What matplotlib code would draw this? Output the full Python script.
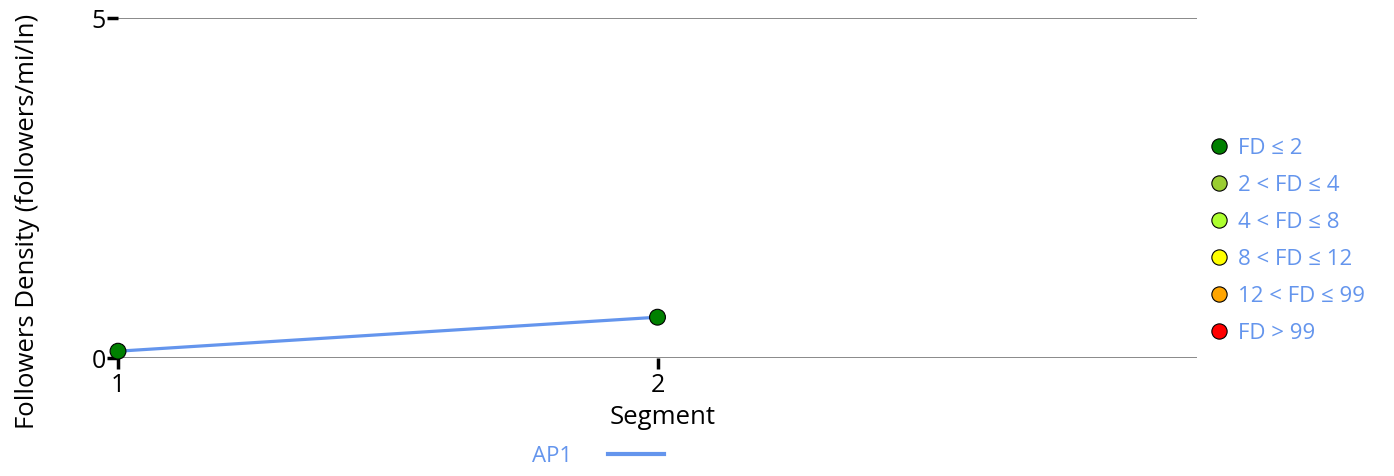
import matplotlib
matplotlib.use("Agg")
import matplotlib.pyplot as plt
from matplotlib.lines import Line2D

# data
segments = [1, 2]
density = [0.1, 0.6]
point_colors = ["#008000", "#008000"]

bin_labels = ["FD ≤ 2", "2 < FD ≤ 4", "4 < FD ≤ 8", "8 < FD ≤ 12", "12 < FD ≤ 99", "FD > 99"]
bin_colors = ["#008000", "#9ACD32", "#ADFF2F", "#FFFF00", "#FFA500", "#FF0000"]

series_name = "AP1"
line_color = "#6495ED"

plt.rcParams["font.family"] = ["Open Sans", "DejaVu Sans"]

fig = plt.figure(figsize=(13.94, 4.76), dpi=100)
ax = fig.add_axes([118 / 1394, 1 - 358 / 476, (1197 - 118) / 1394, 340 / 476])

ax.plot(segments, density, color=line_color, linewidth=2.3, zorder=3, clip_on=False)
ax.scatter(segments, density, s=130, c=point_colors, edgecolors="black",
           linewidths=0.8, zorder=4, clip_on=False)

ax.set_xlim(1, 3)
ax.set_ylim(0, 5)
ax.set_xticks([1, 2])
ax.set_yticks([0, 5])
for s in ax.spines.values():
    s.set_visible(False)
ax.grid(axis="y", color="#808080", linewidth=1.3)
ax.set_axisbelow(True)
ax.tick_params(axis="both", length=8, width=2.5, color="black", labelsize=18)
ax.tick_params(axis="x", pad=3)
ax.tick_params(axis="y", pad=1)

fig.text(663 / 1394, 1 - 418 / 476, "Segment", ha="center", va="center", fontsize=18.5)
fig.text(28 / 1394, 1 - 221 / 476, "Followers Density (followers/mi/ln)",
         ha="center", va="center", rotation=90, fontsize=18.5)

handles = [Line2D([], [], linestyle="none", marker="o", markersize=11,
                  markerfacecolor=c, markeredgecolor="black", markeredgewidth=0.8)
           for c in bin_colors]
leg = fig.legend(handles, bin_labels, loc="upper left",
                 bbox_to_anchor=(1186 / 1394, 1 - 118 / 476), frameon=False,
                 fontsize=16, labelcolor=line_color, handletextpad=0.25,
                 handlelength=1.2, labelspacing=0.72)

leg2 = fig.legend([Line2D([], [], color=line_color, linewidth=3)], [series_name],
                  loc="center", bbox_to_anchor=(598 / 1394, 1 - 456 / 476),
                  frameon=False, fontsize=16, labelcolor=line_color,
                  markerfirst=False, handlelength=2.5, handletextpad=1.6)

fig.savefig("out.png", dpi=100)
